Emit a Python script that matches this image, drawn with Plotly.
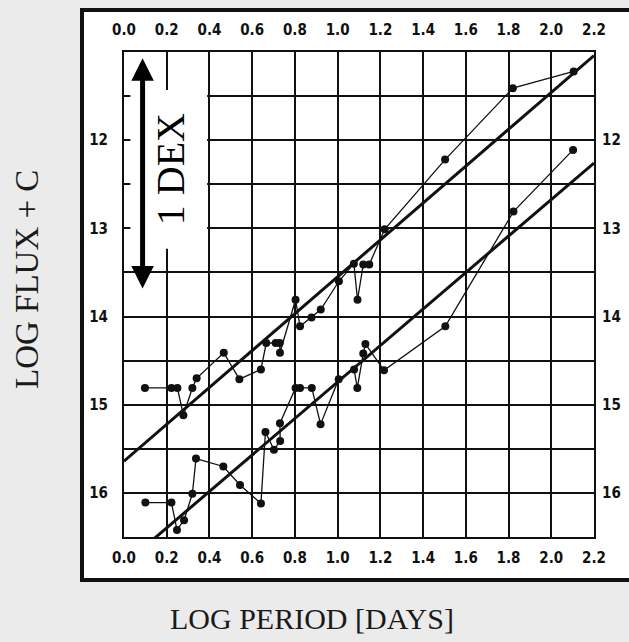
import plotly.graph_objects as go

# ---- data (log period, magnitude) ----
upper_x = [0.098, 0.222, 0.250, 0.278, 0.320, 0.340, 0.467, 0.540, 0.641, 0.666,
           0.710, 0.729, 0.730, 0.803, 0.824, 0.878, 0.921, 1.006, 1.076, 1.093,
           1.120, 1.148, 1.220, 1.503, 1.820, 2.105]
upper_y = [14.81, 14.81, 14.81, 15.12, 14.81, 14.70, 14.41, 14.71, 14.60, 14.30,
           14.30, 14.30, 14.41, 13.81, 14.11, 14.01, 13.92, 13.60, 13.40, 13.81,
           13.41, 13.41, 13.01, 12.22, 11.41, 11.22]

lower_x = [0.100, 0.222, 0.248, 0.281, 0.320, 0.337, 0.465, 0.543, 0.641, 0.662,
           0.702, 0.731, 0.730, 0.803, 0.824, 0.879, 0.920, 1.005, 1.077, 1.092,
           1.120, 1.130, 1.217, 1.504, 1.823, 2.102]
lower_y = [16.11, 16.11, 16.42, 16.31, 16.01, 15.61, 15.70, 15.91, 16.12, 15.31,
           15.51, 15.41, 15.21, 14.81, 14.81, 14.81, 15.22, 14.71, 14.60, 14.81,
           14.42, 14.31, 14.61, 14.11, 12.81, 12.11]

upper_fit_x = [0.0, 2.2]
upper_fit_y = [15.64, 11.04]
lower_fit_x = [0.0, 2.2]
lower_fit_y = [16.81, 12.26]

x_tickvals = [0.0, 0.2, 0.4, 0.6, 0.8, 1.0, 1.2, 1.4, 1.6, 1.8, 2.0, 2.2]
x_ticktext = ["0.0", "0.2", "0.4", "0.6", "0.8", "1.0", "1.2", "1.4", "1.6", "1.8", "2.0", "2.2"]
y_tickvals = [11.0, 11.5, 12.0, 12.5, 13.0, 13.5, 14.0, 14.5, 15.0, 15.5, 16.0, 16.5]
y_ticktext = ["", "", "12", "", "13", "", "14", "", "15", "", "16", ""]

dex_arrow_x = 0.087
dex_arrow_top = 11.07
dex_arrow_bottom = 13.70

INK = "#111111"
TICKFONT = dict(family="DejaVu Sans Condensed, Liberation Sans Narrow, Arial Narrow, sans-serif",
                size=15, color=INK, weight="bold")
SERIF = "Liberation Serif, Times New Roman, serif"

fig = go.Figure()

for fx, fy in [(upper_fit_x, upper_fit_y), (lower_fit_x, lower_fit_y)]:
    fig.add_trace(go.Scatter(x=fx, y=fy, mode="lines",
                             line=dict(color=INK, width=3), hoverinfo="skip", showlegend=False))

for sx, sy in [(upper_x, upper_y), (lower_x, lower_y)]:
    fig.add_trace(go.Scatter(x=sx, y=sy, mode="lines+markers",
                             line=dict(color=INK, width=1.3),
                             marker=dict(color=INK, size=8),
                             showlegend=False))

# invisible trace to activate the mirrored (top/right) axes
fig.add_trace(go.Scatter(x=upper_fit_x, y=upper_fit_y, xaxis="x2", yaxis="y2", mode="markers",
                         marker=dict(opacity=0), hoverinfo="skip", showlegend=False))

axis_common = dict(showline=True, linecolor=INK, linewidth=2, mirror=True,
                   showgrid=True, gridcolor=INK, gridwidth=2, zeroline=False, automargin=False,
                   ticks="outside", tickcolor="rgba(0,0,0,0)", tickfont=TICKFONT)

fig.update_layout(
    width=629, height=642, autosize=False,
    paper_bgcolor="#ebebeb", plot_bgcolor="white",
    margin=dict(l=124, r=35, t=52, b=105, autoexpand=False),
    xaxis=dict(range=[0, 2.2], tickmode="array", tickvals=x_tickvals, ticktext=x_ticktext,
               ticklen=6, **axis_common),
    yaxis=dict(range=[16.5, 11.0], tickmode="array", tickvals=y_tickvals, ticktext=y_ticktext,
               ticklen=11, **axis_common),
    xaxis2=dict(range=[0, 2.2], overlaying="x", side="top", matches="x", tickmode="array",
                tickvals=x_tickvals, ticktext=x_ticktext, showgrid=False, showline=False,
                zeroline=False, automargin=False, ticks="outside", ticklen=10,
                tickcolor="rgba(0,0,0,0)", tickfont=TICKFONT),
    yaxis2=dict(range=[16.5, 11.0], overlaying="y", side="right", matches="y", tickmode="array",
                tickvals=y_tickvals, ticktext=y_ticktext, showgrid=False, showline=False,
                zeroline=False, automargin=False, ticks="outside", ticklen=4,
                tickcolor="rgba(0,0,0,0)", tickfont=TICKFONT),
)

# outer white framed box
fig.add_shape(type="rect", xref="paper", yref="paper",
              x0=(82 - 124) / 470, x1=(640 - 124) / 470,
              y0=(537 - 580) / 485, y1=(537 - 10) / 485,
              fillcolor="white", line=dict(color=INK, width=4), layer="below")

# white panel behind the "1 DEX" label
fig.add_shape(type="rect", xref="x", yref="y", x0=0.03, x1=0.389, y0=11.43, y1=13.23,
              fillcolor="white", line=dict(width=0), layer="above")

fig.add_annotation(x=dex_arrow_x, y=dex_arrow_top, ax=dex_arrow_x, ay=dex_arrow_bottom,
                   xref="x", yref="y", axref="x", ayref="y", text="", showarrow=True,
                   arrowhead=2, startarrowhead=2, arrowside="end+start",
                   arrowwidth=5, arrowsize=0.9, startarrowsize=0.9, arrowcolor="black")

fig.add_annotation(x=0.215, y=12.33, xref="x", yref="y", text="1 DEX", textangle=-90,
                   showarrow=False, font=dict(family=SERIF, size=40, color="black"))

fig.add_annotation(x=(27 - 124) / 470, y=(537 - 280) / 485, xref="paper", yref="paper",
                   xanchor="center", yanchor="middle",
                   text="LOG FLUX + C", textangle=-90, showarrow=False,
                   font=dict(family=SERIF, size=33, color="#1a1a1a"))
fig.add_annotation(x=(312 - 124) / 470, y=(537 - 618) / 485, xref="paper", yref="paper",
                   xanchor="center", yanchor="middle",
                   text="LOG PERIOD [DAYS]", showarrow=False,
                   font=dict(family=SERIF, size=30, color="#1a1a1a"))

fig.write_html("out.html", config={"displayModeBar": False},
               post_script="document.body.style.margin='0';document.body.style.overflow='hidden';")
